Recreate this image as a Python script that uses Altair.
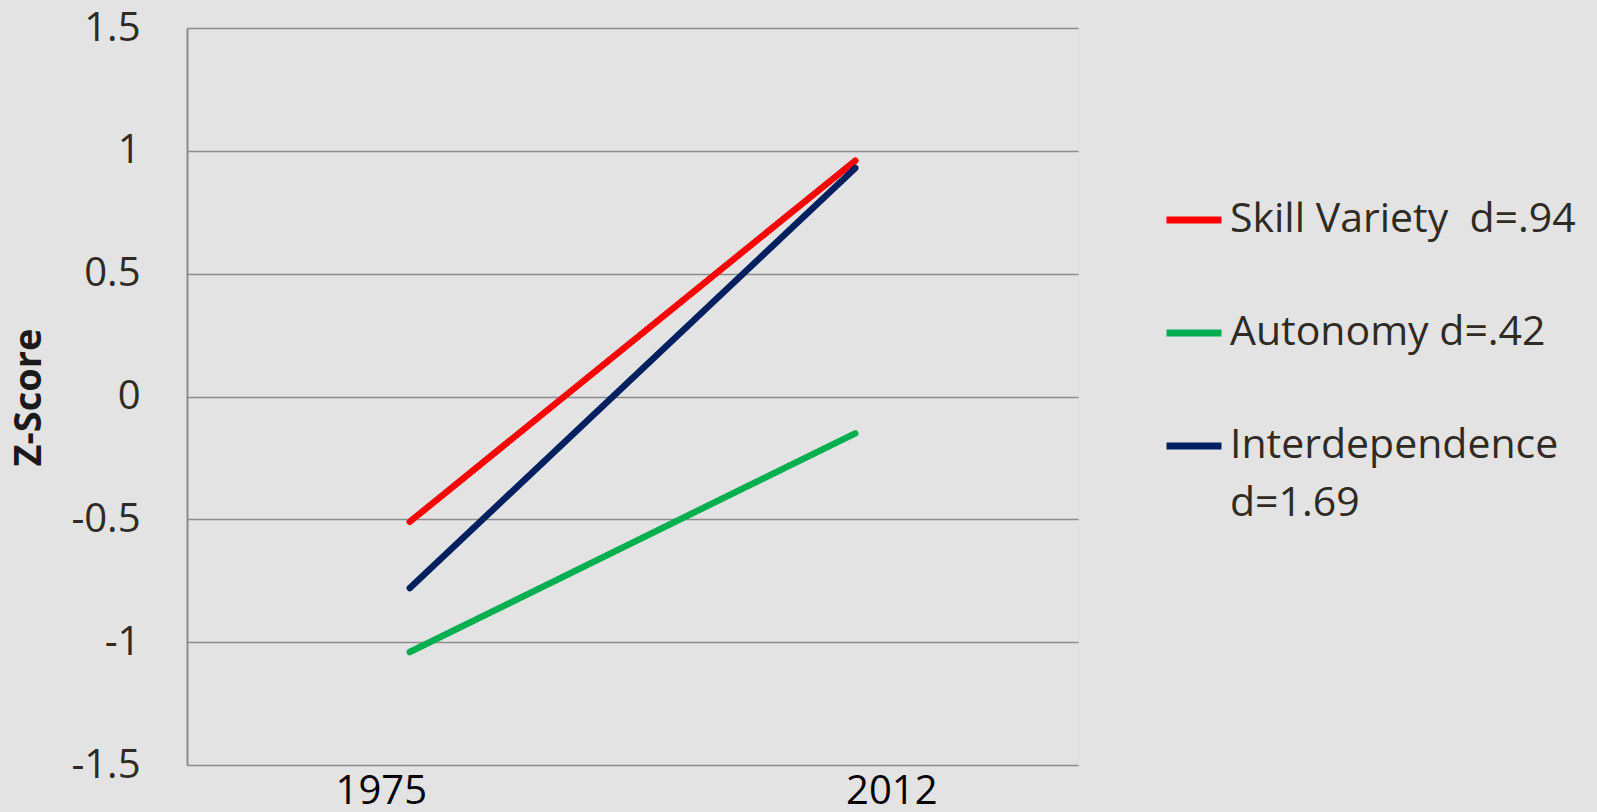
import altair as alt
import pandas as pd

years = ["1975", "2012"]
series = ["Skill Variety\u00a0\u00a0d=.94", "Autonomy d=.42", "Interdependence d=1.69"]
skill_variety = [-0.51, 0.96]
autonomy = [-1.04, -0.15]
interdependence = [-0.78, 0.93]
colors = ["#FF0000", "#00B050", "#002060"]
y_ticks = [-1.5, -1, -0.5, 0, 0.5, 1, 1.5]

rows = []
for name, vals in zip(series, [skill_variety, autonomy, interdependence]):
    for yr, v in zip(years, vals):
        rows.append({"Year": yr, "Series": name, "Z": v})
df = pd.DataFrame(rows)

FONT = "Open Sans"
TXT = "#2f2b24"

chart = alt.Chart(df).mark_line(strokeWidth=6.5, strokeCap="round").encode(
    x=alt.X(
        "Year:O",
        sort=years,
        scale=alt.Scale(type="point", padding=0.5),
        axis=alt.Axis(
            title=None, labelAngle=0, ticks=False, domain=False, grid=False,
            labelFont=FONT, labelFontSize=40, labelColor="#000000",
            labelPadding=6, labelBaseline="top",
            labelOffset={"condition": {"test": "datum.value == '1975'", "value": -29}, "value": 36},
        ),
    ),
    y=alt.Y(
        "Z:Q",
        scale=alt.Scale(domain=[-1.5, 1.5], nice=False, zero=False),
        axis=alt.Axis(
            values=y_ticks, labelExpr="toString(datum.value)",
            title="Z-Score", titleFont=FONT, titleFontSize=38, titleFontWeight="bold",
            titleColor="#1a1a1a", titleAngle=270, titleX=-158, titleY=369,
            titleAlign="center", titleBaseline="middle",
            ticks=False, labelPadding=47, labelFont=FONT, labelFontSize=40,
            labelColor=TXT, domainColor="#8c8c8c", domainWidth=2,
            gridColor="#8c8c8c", gridWidth=1.5, gridOpacity=1,
        ),
    ),
    color=alt.Color(
        "Series:N",
        sort=series,
        scale=alt.Scale(domain=series, range=colors),
        legend=alt.Legend(
            title=None, orient="none", legendX=976, legendY=161,
            symbolType="stroke", symbolStrokeWidth=7, symbolSize=3025,
            labelFont=FONT, labelFontSize=41, labelColor=TXT, labelOffset=5,
            rowPadding=62, labelLimit=600,
            labelExpr="indexof(datum.label, 'Interdependence') == 0 ? ['Interdependence', 'd=1.69'] : datum.label",
        ),
    ),
).properties(
    width=891, height=737, background="#e3e3e3",
    padding={"left": 187, "top": 28, "right": 519, "bottom": 47},
    autosize="none",
).configure_view(stroke=None).configure(
    style={"guide-label": {"lineHeight": 58}}
)

chart.save("out.html", embed_options={"renderer": "svg", "actions": False})
